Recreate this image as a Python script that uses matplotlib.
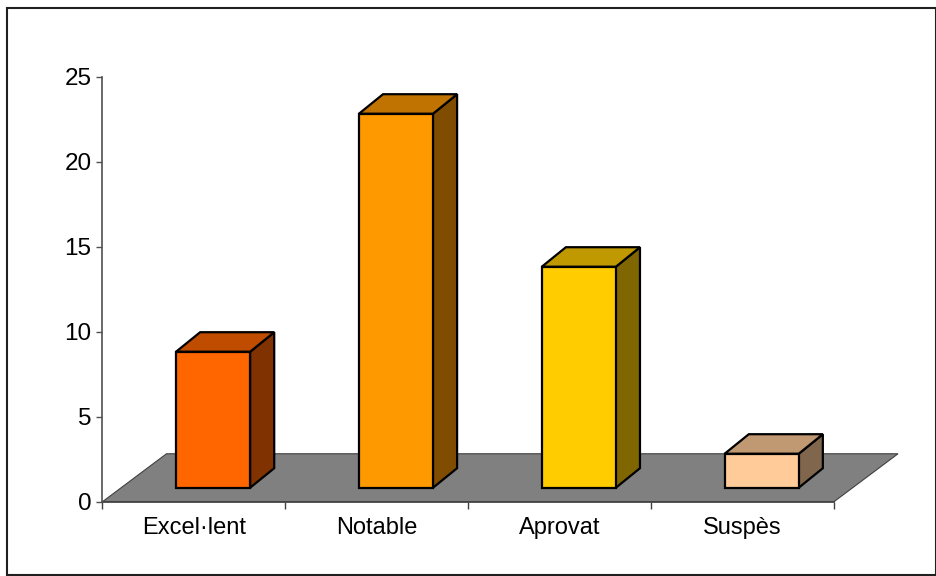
import matplotlib

matplotlib.use("Agg")
import matplotlib.pyplot as plt
from matplotlib.patches import Polygon, Rectangle

plt.rcParams["font.family"] = ["Liberation Sans", "DejaVu Sans"]

categories = ["Excel·lent", "Notable", "Aprovat", "Suspès"]
values = [8, 22, 13, 2]
front_colors = ["#FF6600", "#FF9900", "#FFCC00", "#FFCC99"]
top_colors = ["#C04C00", "#C07300", "#C09900", "#C09973"]
side_colors = ["#803300", "#804C00", "#806600", "#80664C"]
yticks = [0, 5, 10, 15, 20, 25]

W, H = 937, 576
FLOOR = "#808080"

# oblique projection offsets (data units: x = category, y = value)
floor_dx, floor_dy = 0.350, 2.82
bar_dx0, bar_dy0 = 0.1045, 0.82
bar_dx, bar_dy = 0.132, 1.15
bar_w = 0.405

fig = plt.figure(figsize=(W / 100, H / 100), dpi=100)
ax = fig.add_axes([102.5 / W, (H - 501.7) / H, (834 - 102.5) / W, (501.7 - 76.7) / H])
ax.set_xlim(0, len(categories))
ax.set_ylim(0, 25)

# floor
n = len(categories)
floor = Polygon([(0, 0), (n, 0), (n + floor_dx, floor_dy), (floor_dx, floor_dy)],
                closed=True, facecolor=FLOOR, edgecolor="#404040", lw=0.8,
                clip_on=False, zorder=1)
ax.add_patch(floor)

for i, v in enumerate(values):
    xl = i + 0.5 - bar_w / 2 + bar_dx0
    xr = xl + bar_w
    y0 = bar_dy0
    top = y0 + v
    kw = dict(edgecolor="black", lw=1.6, clip_on=False, zorder=3, joinstyle="miter")
    ax.add_patch(Polygon([(xr, y0), (xr + bar_dx, y0 + bar_dy), (xr + bar_dx, top + bar_dy), (xr, top)],
                         closed=True, facecolor=side_colors[i], **kw))
    ax.add_patch(Polygon([(xl, top), (xr, top), (xr + bar_dx, top + bar_dy), (xl + bar_dx, top + bar_dy)],
                         closed=True, facecolor=top_colors[i], **kw))
    ax.add_patch(Rectangle((xl, y0), bar_w, v, facecolor=front_colors[i], **kw))

ax.set_facecolor("none")
for side in ("top", "right"):
    ax.spines[side].set_visible(False)
ax.spines["left"].set_color("#505050")
ax.spines["bottom"].set_color("#404040")
ax.spines["left"].set_linewidth(1.2)
ax.spines["bottom"].set_linewidth(1.2)
ax.spines["bottom"].set_zorder(2)

ax.set_yticks(yticks)
ax.tick_params(axis="y", length=4, width=1, color="#505050", pad=4, labelsize=17.5)
ax.set_xticks(range(n + 1))
ax.set_xticklabels([])
ax.set_xticks([i + 0.5 for i in range(n)], minor=True)
ax.set_xticklabels(categories, minor=True)
ax.tick_params(axis="x", which="major", length=5, width=1, color="#404040", direction="out")
ax.tick_params(axis="x", which="minor", length=0, pad=11, labelsize=17)

fig.add_artist(Rectangle((7 / W, 1 / H), (936.5 - 7) / W, (575 - 8) / H,
                         transform=fig.transFigure, fill=False, edgecolor="#202020", lw=1.5))

fig.savefig("out.png", dpi=100, facecolor="white")
